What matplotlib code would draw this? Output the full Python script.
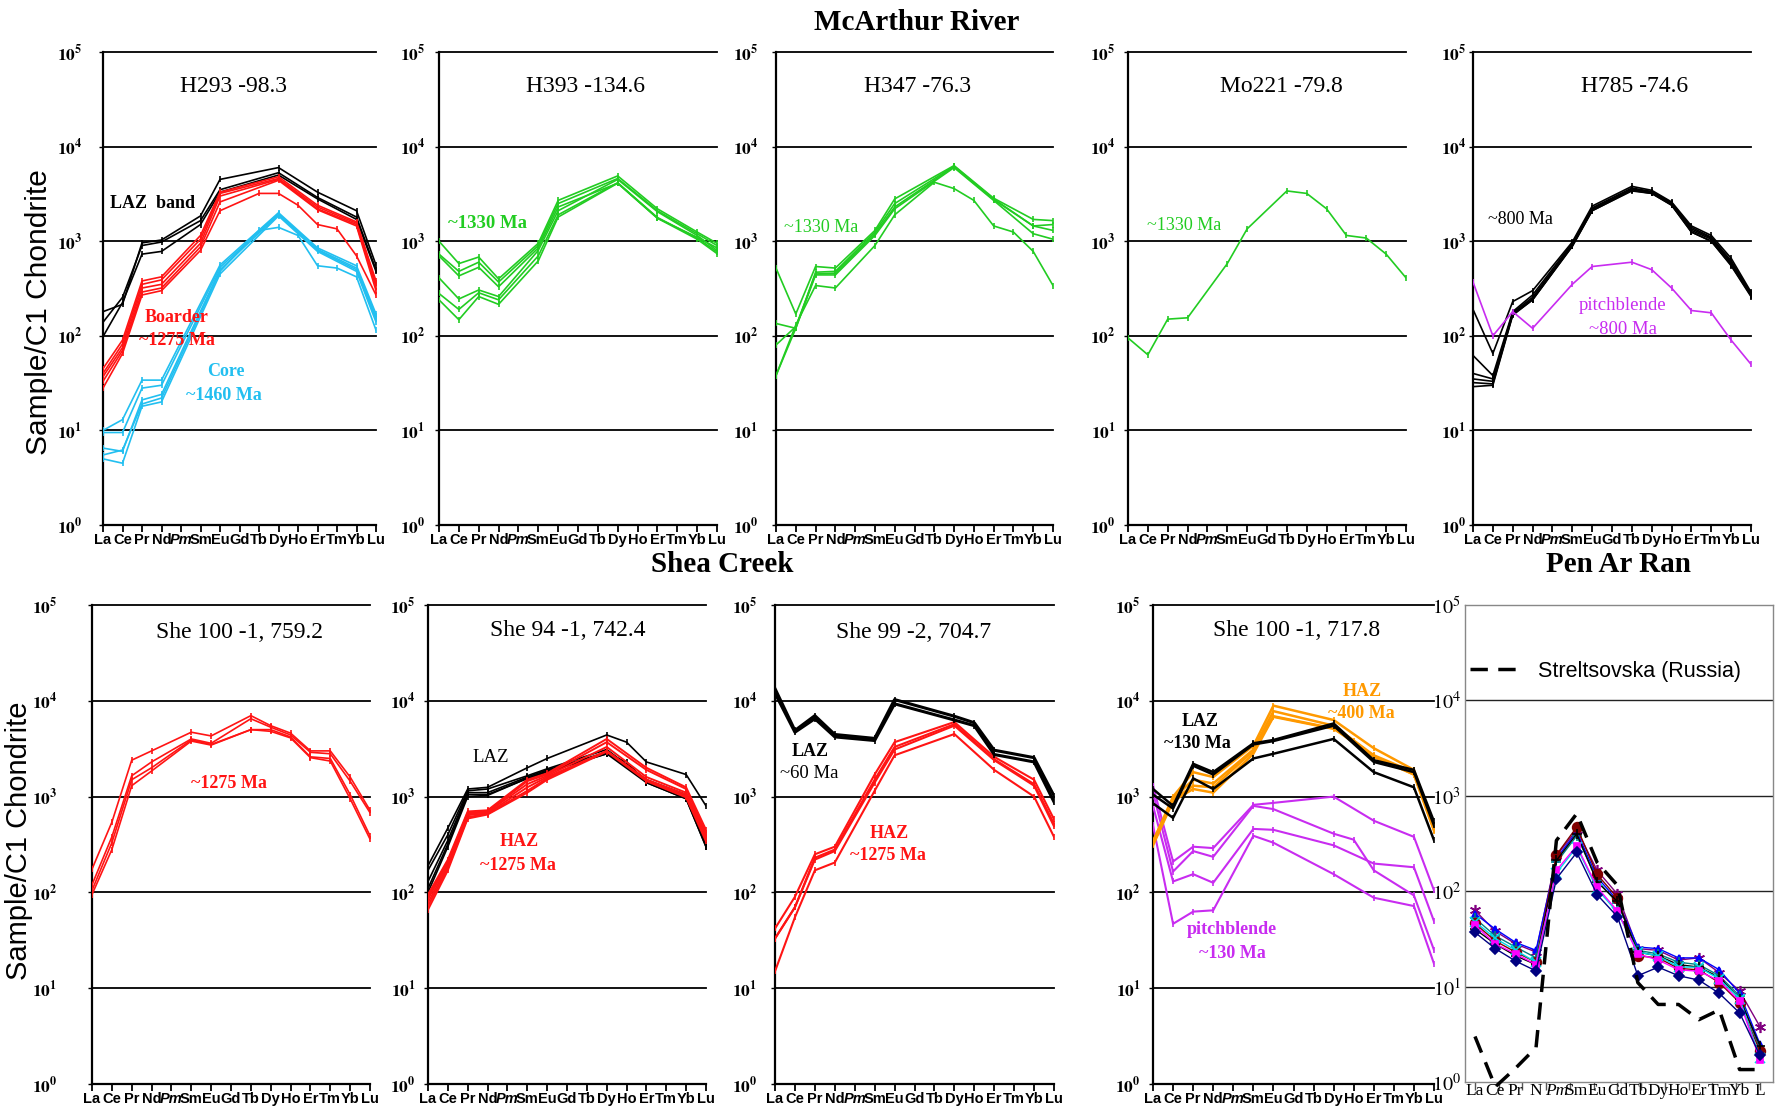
import numpy as np
import matplotlib
matplotlib.use('Agg')
import matplotlib.pyplot as plt
from matplotlib.ticker import NullLocator

plt.rcParams['mathtext.fontset'] = 'stix'

nan = float('nan')
W, H = 1775, 1120

ree = ['La', 'Ce', 'Pr', 'Nd', 'Pm', 'Sm', 'Eu', 'Gd', 'Tb', 'Dy', 'Ho', 'Er', 'Tm', 'Yb', 'Lu']
ree_penarran = ['La', 'Ce', 'Pr', 'N', 'Pm', 'Sm', 'Eu', 'Gd', 'Tb', 'Dy', 'Ho', 'Er', 'Tm', 'Yb', 'L']
decades = [0, 1, 2, 3, 4, 5]

# ---------------- McArthur River ----------------
p1_laz = [
    [180, 215, 960, 1030, nan, 1850, 4500, nan, nan, 6000, nan, 3300, nan, 2100, 560],
    [139, 255, 900, 980, nan, 1650, 3500, nan, nan, 5300, nan, 2900, nan, 1800, 500],
    [98, 225, 730, 780, nan, 1500, 3300, nan, nan, 5000, nan, 2800, nan, 1700, 480],
]
p1_border = [
    [45, 90, 380, 420, nan, 1150, 3300, nan, nan, 4800, nan, 2400, nan, 1600, 380],
    [40, 82, 350, 390, nan, 1050, 3200, nan, nan, 4600, nan, 2300, nan, 1550, 360],
    [37, 75, 320, 350, nan, 950, 3000, nan, nan, 4500, nan, 2200, nan, 1500, 330],
    [33, 70, 290, 320, nan, 870, 2600, nan, nan, 4400, nan, 2150, nan, 1450, 300],
    [28, 65, 270, 300, nan, 800, 2100, nan, 3200, 3200, 2400, 1500, 1350, 700, 270],
]
p1_core = [
    [10, 13, 34, 34, nan, nan, 560, nan, nan, 2000, nan, 850, nan, 550, 170],
    [9.5, 9.5, 28, 30, nan, nan, 530, nan, nan, 1950, nan, 820, nan, 520, 160],
    [6.5, 6, 21, 24, nan, nan, 500, nan, nan, 1900, nan, 800, nan, 500, 150],
    [5.5, 6.2, 19, 22, nan, nan, 480, nan, 1300, 1400, 1150, 550, 520, 420, 115],
    [5, 4.5, 18, 20, nan, nan, 450, nan, nan, 1850, nan, 780, nan, 480, 140],
]
p2_green = [
    [1000, 580, 680, 400, nan, 950, 2700, nan, nan, 4900, nan, 2200, nan, 1250, 950],
    [730, 480, 600, 370, nan, 900, 2500, nan, nan, 4600, nan, 2100, nan, 1200, 900],
    [700, 430, 530, 330, nan, 850, 2300, nan, nan, 4100, nan, 1750, nan, 1100, 850],
    [410, 245, 305, 260, nan, 800, 2100, nan, nan, 4500, nan, 2050, nan, 1150, 800],
    [280, 190, 285, 240, nan, 700, 1900, nan, nan, 4150, nan, 1780, nan, 1080, 770],
    [240, 148, 260, 215, nan, 620, 1800, nan, nan, 4100, nan, 1750, nan, 1050, 740],
]
p3_green = [
    [520, 170, 540, 520, nan, 1300, 2800, nan, nan, 6300, nan, 2850, nan, 1700, 1650],
    [135, 120, 470, 480, nan, 1250, 2500, nan, nan, 6200, nan, 2800, nan, 1450, 1500],
    [80, 125, 450, 460, nan, 1200, 2300, nan, nan, 6100, nan, 2750, nan, 1450, 1300],
    [38, 120, 440, 440, nan, 1150, 2200, nan, nan, 6000, nan, 2700, nan, 1200, 1050],
    [38, 130, 340, 320, nan, 900, 1900, nan, 4200, 3600, 2700, 1450, 1250, 780, 340],
]
p4_green = [
    [95, 63, 150, 155, nan, 580, 1350, nan, 3400, 3200, 2200, 1150, 1080, 730, 410],
]
p5_black = [
    [190, 65, 230, 300, nan, 980, 2350, nan, 3800, 3450, 2600, 1450, 1150, 660, 290],
    [62, 38, 180, 270, nan, 950, 2250, nan, 3650, 3350, 2550, 1400, 1100, 620, 280],
    [40, 35, 175, 255, nan, 920, 2200, nan, 3550, 3300, 2500, 1350, 1080, 600, 275],
    [35, 33, 170, 245, nan, 900, 2150, nan, 3500, 3250, 2450, 1300, 1050, 580, 270],
    [32, 31, 168, 240, nan, 890, 2100, nan, 3450, 3200, 2420, 1250, 1000, 560, 265],
    [29, 30, 165, 240, nan, 880, 2100, nan, 3400, 3200, 2400, 1250, 1000, 550, 260],
]
p5_pitch = [
    [370, 100, 180, 120, nan, 350, 540, nan, 600, 500, 320, 185, 175, 90, 50],
]

# ---------------- Shea Creek ----------------
p6_red = [
    [175, 540, 2400, 3000, nan, 4700, 4300, nan, 7000, 5500, 4600, 3000, 3000, 1600, 720],
    [120, 380, 1650, 2300, nan, 4000, 3600, nan, 6500, 5300, 4400, 2900, 2800, 1450, 680],
    [105, 330, 1500, 2000, nan, 3900, 3500, nan, 5000, 5000, 4200, 2600, 2500, 1050, 390],
    [95, 280, 1300, 1850, nan, 3800, 3450, nan, 5000, 4800, 4100, 2550, 2350, 950, 360],
]
p7_laz = [
    [190, 470, 1200, 1250, nan, 2000, 2500, nan, nan, 4400, 3700, 2300, nan, 1700, 800],
    [170, 400, 1150, 1200, nan, 1650, 1950, nan, nan, 3100, nan, 1500, nan, 1050, 350],
    [130, 350, 1100, 1100, nan, 1600, 1900, nan, nan, 2900, nan, 1450, nan, 1000, 320],
    [110, 320, 1050, 1050, nan, 1550, 1850, nan, nan, 2800, 2300, 1400, nan, 950, 300],
    [100, 300, 1000, 1030, nan, 1550, 1800, nan, nan, 2800, nan, 1400, nan, 950, 300],
]
p7_haz = [
    [95, 220, 700, 720, nan, 1500, 1750, nan, nan, 4000, nan, 2000, nan, 1250, 450],
    [90, 210, 680, 700, nan, 1450, 1700, nan, nan, 3700, nan, 1900, nan, 1200, 420],
    [85, 200, 660, 690, nan, 1350, 1650, nan, nan, 3300, nan, 1600, nan, 1100, 400],
    [78, 190, 640, 670, nan, 1250, 1600, nan, nan, 3000, nan, 1500, nan, 1050, 380],
    [72, 180, 610, 660, nan, 1150, 1550, nan, nan, 3000, nan, 1500, nan, 1000, 360],
    [66, 170, 590, 650, nan, 1100, 1500, nan, nan, 2950, nan, 1450, nan, 980, 340],
]
p8_laz = [
    [13400, 4900, 7000, 4450, nan, 4050, 10300, nan, nan, 6900, 5900, 3050, nan, 2550, 1020],
    [12000, 4700, 6500, 4200, nan, 3850, 9300, nan, nan, 6300, 5500, 2750, nan, 2300, 880],
]
p8_haz = [
    [42, 90, 250, 300, nan, 1700, 3700, nan, nan, 6000, nan, 2600, nan, 1500, 580],
    [33, 70, 230, 280, nan, 1500, 3300, nan, nan, 5700, nan, 2450, nan, 1350, 520],
    [33, 70, 220, 270, nan, 1400, 3100, nan, nan, 5500, nan, 2400, nan, 1300, 490],
    [15, 55, 170, 205, nan, 1150, 2700, nan, nan, 4500, nan, 1900, nan, 1000, 380],
]
p9_laz = [
    [1200, 800, 2200, 1800, nan, 3600, 3900, nan, nan, 5800, nan, 2400, nan, 1900, 550],
    [1050, 750, 2100, 1700, nan, 3500, 3800, nan, nan, 5500, nan, 2300, nan, 1800, 500],
    [850, 600, 1550, 1200, nan, 2500, 2800, nan, nan, 4000, nan, 1800, nan, 1250, 350],
]
p9_haz = [
    [340, 1000, 1800, 1600, nan, 3400, 8900, nan, nan, 6300, nan, 3200, nan, 1900, 480],
    [340, 950, 1500, 1370, nan, 3100, 7800, nan, nan, 5500, nan, 2700, nan, 1800, 470],
    [320, 920, 1300, 1250, nan, 3000, 6900, nan, nan, 5150, nan, 2600, nan, 1700, 450],
    [310, 900, 1200, 1100, nan, 2800, 6800, nan, nan, 5100, 3800, 2650, nan, 1700, 440],
]
p9_pitch = [
    [1300, 210, 300, 290, nan, 820, 860, nan, nan, 1000, nan, 560, nan, 380, 105],
    [1100, 165, 270, 235, nan, 800, 740, nan, nan, 410, 355, 170, nan, 93, 25],
    [800, 130, 155, 126, nan, 460, 450, nan, nan, 310, nan, 200, nan, 183, 50],
    [500, 47, 63, 65, nan, 390, 330, nan, nan, 155, nan, 88, nan, 72, 18],
]

# ---------------- Pen Ar Ran ----------------
p10_navy = [37, 25, 18.5, 14.6, 135, 255, 92, 54, 13, 16, 13, 11.7, 8.5, 5.3, 1.9]
p10_maroon = [46, 30, 23, 18, 240, 470, 150, 85, 21, 20, 15.5, 15, 11, 6.8, 2.1]
p10_blue = [58, 40, 29, 24, 220, 420, 140, 80, 26, 25, 20, 20, 15, 8.5, 2.5]
p10_magenta = [44, 28, 22, 17, 165, 300, 110, 62, 22, 19, 15, 14.5, 11.5, 7, 1.7]
p10_cyan = [48, 32, 24, 18, 155, 290, 105, 60, 23, 21, 16, 16, 12, 7.5, 1.8]
p10_purple = [63, 38, 28, 23, 235, 440, 165, 93, 25, 24, 19, 20, 14, 9, 3.8]
p10_teal = [52, 34, 26, 20, 200, 380, 130, 75, 24, 22, 18, 17, 13, 8, 2.2]
p10_black = [40, 28, 21, 17, 210, 400, 125, 78, 23, 21, 17, 16, 12.5, 7.5, 2.4]
p10_strelt = [3.0, 0.89, 1.4, 2.3, 340, 650, 200, 115, 11, 6.5, 6.5, 4.5, 5.7, 1.35, 1.35]

titles = ['H293 -98.3', 'H393 -134.6', 'H347 -76.3', 'Mo221 -79.8', 'H785 -74.6',
          'She 100 -1, 759.2', 'She 94 -1, 742.4', 'She 99 -2, 704.7', 'She 100 -1, 717.8']

GREEN = '#22cc22'
RED = '#ff1414'
CYAN = '#22bff0'
MAG = '#c82cf0'
ORANGE = '#ff9900'
SERIF = 'Liberation Serif'
SANS = 'Liberation Sans'

fig = plt.figure(figsize=(W / 100, H / 100), dpi=100)

# panel boxes in pixels: left, top, right, bottom ; plus y-label gap
boxes = [
    (103, 52, 376, 525, 12), (439, 52, 717, 525, 7), (776, 52, 1053, 525, 10),
    (1128, 52, 1406, 525, 6), (1473, 52, 1751, 525, 2),
    (92, 605, 370, 1084, 22), (428, 605, 706, 1084, 6), (775, 605, 1054, 1084, 10),
    (1153, 605, 1434, 1084, 6),
]


def mkax(l, t, r, b):
    return fig.add_axes([l / W, 1 - b / H, (r - l) / W, (b - t) / H])


def setup(ax, gap):
    ax.set_yscale('log')
    ax.set_ylim(1, 1e5)
    ax.set_xlim(0, 14)
    ax.spines['top'].set_visible(False)
    ax.spines['right'].set_visible(False)
    ax.spines['left'].set_linewidth(1.6)
    ax.spines['bottom'].set_linewidth(1.6)
    for e in decades[1:]:
        ax.axhline(10 ** e, color='black', lw=1.3, clip_on=False, zorder=1)
    ax.set_yticks([10 ** e for e in decades])
    ax.set_yticklabels([r'$\mathbf{10^{%d}}$' % e for e in decades], fontsize=12.5)
    ax.yaxis.set_minor_locator(NullLocator())
    ax.set_xticks(range(len(ree)))
    ax.set_xticklabels(ree, fontfamily=SANS, fontweight='bold', fontsize=10.5)
    ax.get_xticklabels()[4].set_style('italic')
    ax.tick_params(axis='x', direction='out', length=5, width=1.3, pad=1)
    ax.tick_params(axis='y', direction='out', length=3, width=1.0, pad=gap)


def draw(ax, series, color, lw=1.2, marker='|', ms=5):
    x = np.arange(len(ree))
    for s in series:
        y = np.array(s, float)
        m = np.isfinite(y)
        ax.plot(x[m], y[m], color=color, lw=lw, marker=marker, ms=ms, mew=1.2, zorder=3)


axes = []
for (l, t, r, b, gap) in boxes:
    ax = mkax(l, t, r, b)
    setup(ax, gap)
    axes.append(ax)

draw(axes[0], p1_laz, 'black')
draw(axes[0], p1_core, CYAN)
draw(axes[0], p1_border, RED)
draw(axes[1], p2_green, GREEN)
draw(axes[2], p3_green, GREEN)
draw(axes[3], p4_green, GREEN)
draw(axes[4], p5_black, 'black')
draw(axes[4], p5_pitch, MAG)
draw(axes[5], p6_red, RED)
draw(axes[6], p7_laz, 'black')
draw(axes[6], p7_haz, RED, lw=1.4)
draw(axes[7], p8_haz, RED, lw=1.5)
draw(axes[7], p8_laz, 'black', lw=2.2)
draw(axes[8], p9_pitch, MAG, lw=1.5)
draw(axes[8], p9_haz, ORANGE, lw=1.8)
draw(axes[8], p9_laz, 'black', lw=1.8)

# ---------- Pen Ar Ran panel ----------
ax = mkax(1465, 605, 1773, 1082)
ax.set_yscale('log')
ax.set_ylim(1, 1e5)
ax.set_xlim(-0.49, 14.64)
for s in ax.spines.values():
    s.set_color('#888888')
    s.set_linewidth(1.0)
for e in decades[1:5]:
    ax.axhline(10 ** e, color='#222222', lw=1.0, zorder=1)
ax.set_yticks([10 ** e for e in decades])
ax.set_yticklabels([r'$10^{%d}$' % e for e in decades], fontsize=14.5)
ax.yaxis.set_minor_locator(NullLocator())
ax.tick_params(axis='y', length=0, pad=3)
ax.xaxis.remove_overlapping_locs = False
ax.set_xticks(np.linspace(0, 14, 13))
ax.set_xticklabels([''] * 13)
ax.set_xticks(range(len(ree_penarran)), minor=True)
ax.set_xticklabels(ree_penarran, minor=True, fontfamily=SERIF, fontsize=12.5)
ax.get_xticklabels(minor=True)[4].set_style('italic')
ax.tick_params(axis='x', which='major', direction='out', length=6, width=1.0, color='#555555')
ax.tick_params(axis='x', which='minor', length=0, pad=1)

xp = np.arange(len(ree_penarran))
pen = [
    (p10_purple, '#800080', (6, 2, 0), 8),
    (p10_blue, '#0000ff', '^', 5),
    (p10_teal, '#008080', '+', 7),
    (p10_maroon, '#800000', 'o', 7),
    (p10_black, 'black', '+', 7),
    (p10_cyan, '#00d8e8', 'x', 7),
    (p10_magenta, '#ff00ff', 's', 5),
    (p10_navy, '#000080', 'D', 5),
]
for vals, col, mk, ms in pen:
    ax.plot(xp, vals, color=col, lw=1.0, marker=mk, ms=ms, mew=1.2, zorder=3)
strelt, = ax.plot(xp, p10_strelt, color='black', lw=2.5, dashes=(5, 3), clip_on=False,
                  zorder=4, label='Streltsovska (Russia)')
ax.legend(handles=[strelt], loc='center left', frameon=False, borderpad=0, borderaxespad=0,
          handlelength=2.3, handletextpad=0.85,
          prop={'family': SANS, 'size': 15.5},
          bbox_to_anchor=(1470 / W, 1 - 671 / H), bbox_transform=fig.transFigure)


# ---------- texts ----------
def ftext(x, y, s, **kw):
    kw.setdefault('ha', 'center')
    kw.setdefault('va', 'center')
    fig.text(x / W, 1 - y / H, s, **kw)


title_pos = [(233, 86), (585, 86), (918, 86), (1281, 86), (1635, 86),
             (240, 633), (568, 631), (914, 633), (1297, 630)]
for (x, y), s in zip(title_pos, titles):
    ftext(x, y, s, family=SERIF, fontsize=17)

ftext(917, 23, 'McArthur River', family=SERIF, fontsize=21, fontweight='bold')
ftext(722, 565, 'Shea Creek', family=SERIF, fontsize=21, fontweight='bold')
ftext(1619, 565, 'Pen Ar Ran', family=SERIF, fontsize=21, fontweight='bold')

ftext(39, 312, 'Sample/C1 Chondrite', family=SANS, fontsize=21.5, rotation=90)
ftext(19, 841, 'Sample/C1 Chondrite', family=SANS, fontsize=21, rotation=90)

notes = [
    (152, 204, 'LAZ  band', 'black', 'bold', 13),
    (177, 318, 'Boarder', RED, 'bold', 13),
    (177, 341, '~1275 Ma', RED, 'bold', 13),
    (226, 372, 'Core', CYAN, 'bold', 13),
    (224, 395, '~1460 Ma', CYAN, 'bold', 13),
    (488, 223, '~1330 Ma', GREEN, 'bold', 13.5),
    (821, 228, '~1330 Ma', GREEN, 'normal', 13),
    (1184, 226, '~1330 Ma', GREEN, 'normal', 13),
    (1520, 220, '~800 Ma', 'black', 'normal', 13),
    (1623, 306, 'pitchblende', MAG, 'normal', 13.5),
    (1623, 329, '~800 Ma', MAG, 'normal', 13.5),
    (229, 783, '~1275 Ma', RED, 'bold', 13),
    (491, 757, 'LAZ', 'black', 'normal', 13.5),
    (519, 842, 'HAZ', RED, 'bold', 13),
    (518, 865, '~1275 Ma', RED, 'bold', 13),
    (810, 752, 'LAZ', 'black', 'bold', 13),
    (809, 774, '~60 Ma', 'black', 'normal', 13.5),
    (889, 834, 'HAZ', RED, 'bold', 13),
    (888, 856, '~1275 Ma', RED, 'bold', 13),
    (1200, 721, 'LAZ', 'black', 'bold', 13),
    (1197, 743, '~130 Ma', 'black', 'bold', 13),
    (1362, 691, 'HAZ', ORANGE, 'bold', 13),
    (1361, 714, '~400 Ma', ORANGE, 'bold', 13),
    (1232, 930, 'pitchblende', MAG, 'bold', 13),
    (1232, 953, '~130 Ma', MAG, 'bold', 13),
]
for x, y, s, c, w, fs in notes:
    ftext(x, y, s, family=SERIF, fontsize=fs, color=c, fontweight=w)

fig.savefig('out.png', dpi=100)
